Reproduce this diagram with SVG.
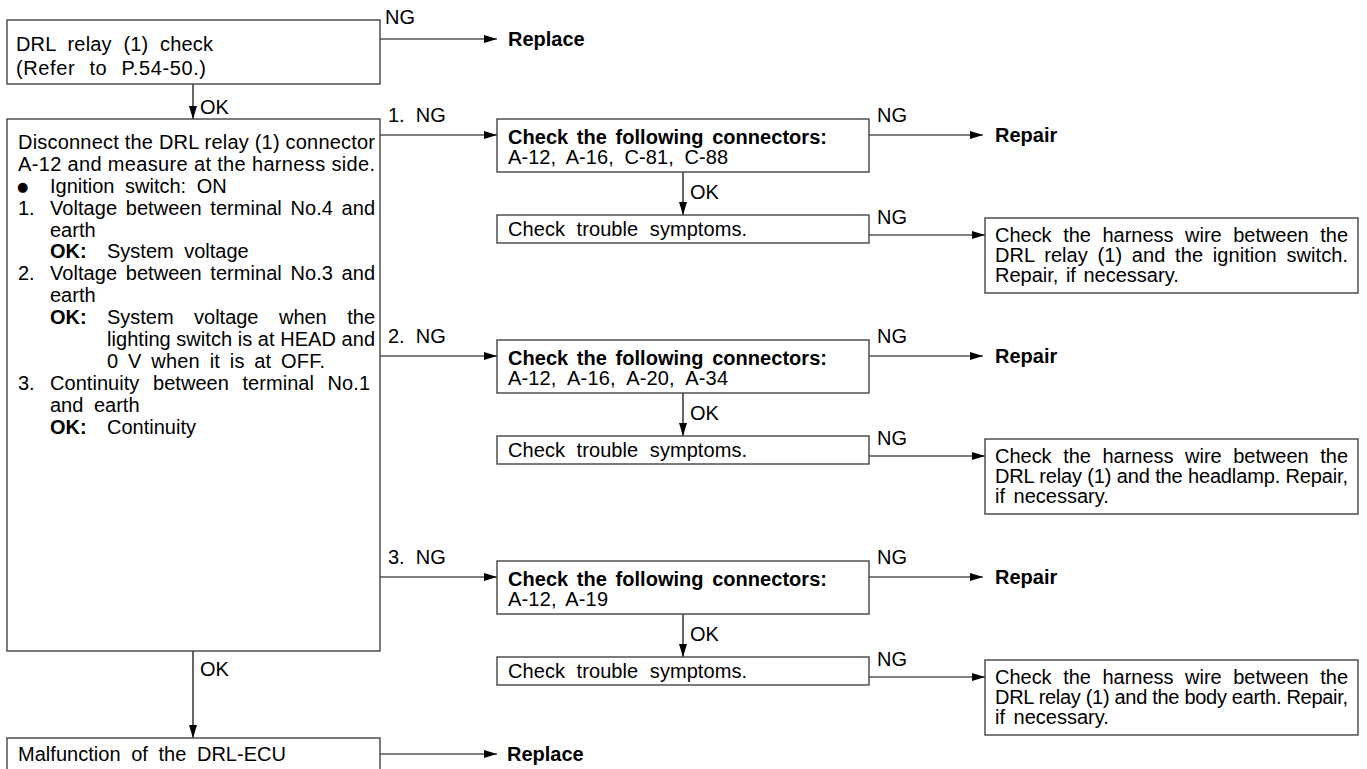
<svg xmlns="http://www.w3.org/2000/svg" width="1367" height="769" viewBox="0 0 1367 769">
<defs>
<marker id="ah" markerUnits="userSpaceOnUse" markerWidth="14" markerHeight="9" refX="13" refY="4" orient="auto">
<path d="M0,0 L13,4 L0,8 z" fill="#000"/>
</marker>
<style>
text{font-family:"Liberation Sans",Arial,sans-serif;font-size:20px;fill:#000}
.b{font-weight:bold}
.box{fill:#fff;stroke:#444;stroke-width:1.4}
.ln{stroke:#000;stroke-width:1.2;fill:none}
.ar{stroke:#000;stroke-width:1.2;fill:none;marker-end:url(#ah)}
.dot{font-family:"DejaVu Sans",sans-serif;font-size:13px}
</style>
</defs>
<rect width="1367" height="769" fill="#fff"/>

<g id="connectors">
<line class="ar" x1="380" y1="39" x2="497" y2="39"/>
<line class="ar" x1="193" y1="84" x2="193" y2="119"/>
<line class="ar" x1="380" y1="135" x2="497" y2="135"/>
<line class="ar" x1="869" y1="135" x2="983" y2="135"/>
<line class="ar" x1="683" y1="172" x2="683" y2="215"/>
<line class="ar" x1="869" y1="235" x2="985" y2="235"/>
<line class="ar" x1="380" y1="356" x2="497" y2="356"/>
<line class="ar" x1="869" y1="356" x2="983" y2="356"/>
<line class="ar" x1="683" y1="393" x2="683" y2="436"/>
<line class="ar" x1="869" y1="456" x2="985" y2="456"/>
<line class="ar" x1="380" y1="577" x2="497" y2="577"/>
<line class="ar" x1="869" y1="577" x2="983" y2="577"/>
<line class="ar" x1="683" y1="614" x2="683" y2="657"/>
<line class="ar" x1="869" y1="677" x2="985" y2="677"/>
<line class="ar" x1="193" y1="651" x2="193" y2="738"/>
<line class="ar" x1="380" y1="754" x2="497" y2="754"/>
<text x="385" y="24">NG</text>
<text x="200" y="114">OK</text>
<text x="388" y="122" xml:space="preserve">1.  NG</text>
<text x="877" y="122">NG</text>
<text x="690" y="199">OK</text>
<text x="877" y="224">NG</text>
<text x="388" y="343" xml:space="preserve">2.  NG</text>
<text x="877" y="343">NG</text>
<text x="690" y="420">OK</text>
<text x="877" y="445">NG</text>
<text x="388" y="564" xml:space="preserve">3.  NG</text>
<text x="877" y="564">NG</text>
<text x="690" y="641">OK</text>
<text x="877" y="666">NG</text>
<text x="200" y="676">OK</text>
</g>

<g id="n-relay-check">
<rect class="box" x="7" y="20" width="373" height="64"/>
<text x="16" y="51" textLength="197" lengthAdjust="spacing" word-spacing="6">DRL relay (1) check</text>
<text x="16" y="75" textLength="190" lengthAdjust="spacing" word-spacing="8">(Refer to P.54-50.)</text>
</g>

<g id="n-replace-1"><text class="b" x="508" y="46">Replace</text></g>

<g id="n-disconnect">
<rect class="box" x="7" y="119" width="373" height="532"/>
<text x="18" y="149" textLength="357" lengthAdjust="spacing">Disconnect the DRL relay (1) connector</text>
<text x="18" y="171" textLength="357" lengthAdjust="spacing">A-12 and measure at the harness side.</text>
<text class="dot" x="17" y="191">●</text>
<text x="50" y="193" word-spacing="5">Ignition switch: ON</text>
<text x="18" y="215">1.</text>
<text x="50" y="215" textLength="325" lengthAdjust="spacing" word-spacing="3">Voltage between terminal No.4 and</text>
<text x="50" y="237">earth</text>
<text class="b" x="50" y="258">OK:</text>
<text x="107" y="258" word-spacing="5">System voltage</text>
<text x="18" y="280">2.</text>
<text x="50" y="280" textLength="325" lengthAdjust="spacing" word-spacing="3">Voltage between terminal No.3 and</text>
<text x="50" y="302">earth</text>
<text class="b" x="50" y="324">OK:</text>
<text x="107" y="324" textLength="268" lengthAdjust="spacing" word-spacing="15">System voltage when the</text>
<text x="107" y="346" textLength="268" lengthAdjust="spacing">lighting switch is at HEAD and</text>
<text x="107" y="368" textLength="218" lengthAdjust="spacing" word-spacing="4">0 V when it is at OFF.</text>
<text x="18" y="390">3.</text>
<text x="50" y="390" textLength="320" lengthAdjust="spacing" word-spacing="8">Continuity between terminal No.1</text>
<text x="50" y="412" word-spacing="5">and earth</text>
<text class="b" x="50" y="434">OK:</text>
<text x="107" y="434">Continuity</text>
</g>

<g id="n-conn-1">
<rect class="box" x="497" y="119" width="372" height="53"/>
<text class="b" x="508" y="144" textLength="319" lengthAdjust="spacing" word-spacing="3">Check the following connectors:</text>
<text x="508" y="164" textLength="220" lengthAdjust="spacing" word-spacing="5">A-12, A-16, C-81, C-88</text>
</g>
<g id="n-repair-1"><text class="b" x="995" y="142">Repair</text></g>
<g id="n-trouble-1">
<rect class="box" x="497" y="215" width="372" height="28"/>
<text x="508" y="236" textLength="239" lengthAdjust="spacing" word-spacing="6">Check trouble symptoms.</text>
</g>
<g id="n-harness-1">
<rect class="box" x="985" y="218" width="373" height="75"/>
<text x="995" y="242" textLength="353" lengthAdjust="spacing" word-spacing="6">Check the harness wire between the</text>
<text x="995" y="262" textLength="353" lengthAdjust="spacing" word-spacing="4">DRL relay (1) and the ignition switch.</text>
<text x="995" y="282" word-spacing="2">Repair, if necessary.</text>
</g>

<g id="n-conn-2">
<rect class="box" x="497" y="340" width="372" height="53"/>
<text class="b" x="508" y="365" textLength="319" lengthAdjust="spacing" word-spacing="3">Check the following connectors:</text>
<text x="508" y="385" textLength="220" lengthAdjust="spacing" word-spacing="6">A-12, A-16, A-20, A-34</text>
</g>
<g id="n-repair-2"><text class="b" x="995" y="363">Repair</text></g>
<g id="n-trouble-2">
<rect class="box" x="497" y="436" width="372" height="28"/>
<text x="508" y="457" textLength="239" lengthAdjust="spacing" word-spacing="6">Check trouble symptoms.</text>
</g>
<g id="n-harness-2">
<rect class="box" x="985" y="439" width="373" height="75"/>
<text x="995" y="463" textLength="353" lengthAdjust="spacing" word-spacing="6">Check the harness wire between the</text>
<text x="995" y="483" textLength="353" lengthAdjust="spacing">DRL relay (1) and the headlamp. Repair,</text>
<text x="995" y="503" word-spacing="3">if necessary.</text>
</g>

<g id="n-conn-3">
<rect class="box" x="497" y="561" width="372" height="53"/>
<text class="b" x="508" y="586" textLength="319" lengthAdjust="spacing" word-spacing="3">Check the following connectors:</text>
<text x="508" y="606" textLength="100" lengthAdjust="spacing" word-spacing="4">A-12, A-19</text>
</g>
<g id="n-repair-3"><text class="b" x="995" y="584">Repair</text></g>
<g id="n-trouble-3">
<rect class="box" x="497" y="657" width="372" height="28"/>
<text x="508" y="678" textLength="239" lengthAdjust="spacing" word-spacing="6">Check trouble symptoms.</text>
</g>
<g id="n-harness-3">
<rect class="box" x="985" y="660" width="373" height="75"/>
<text x="995" y="684" textLength="353" lengthAdjust="spacing" word-spacing="6">Check the harness wire between the</text>
<text x="995" y="704" textLength="353" lengthAdjust="spacing">DRL relay (1) and the body earth. Repair,</text>
<text x="995" y="724" word-spacing="3">if necessary.</text>
</g>

<g id="n-malfunction">
<rect class="box" x="7" y="738" width="373" height="50"/>
<text x="18" y="761" textLength="268" lengthAdjust="spacing" word-spacing="5">Malfunction of the DRL-ECU</text>
</g>
<g id="n-replace-2"><text class="b" x="507" y="761">Replace</text></g>
</svg>
